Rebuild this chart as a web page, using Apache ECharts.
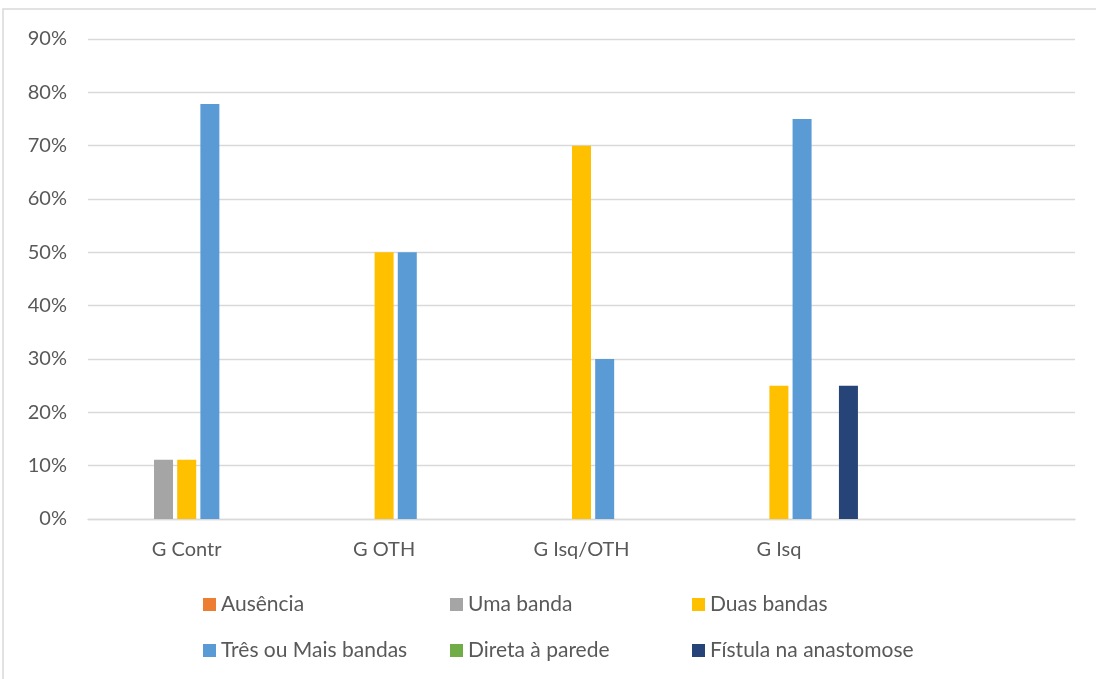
<!DOCTYPE html>
<html>
<head>
<meta charset="utf-8">
<script src="https://cdn.jsdelivr.net/npm/echarts@6/dist/echarts.min.js"></script>
<style>
html,body{margin:0;padding:0;background:#fff;}
#chart{width:1096px;height:679px;}
</style>
</head>
<body>
<div id="chart"></div>
<script>
var categories = ['G Contr', 'G OTH', 'G Isq/OTH', 'G Isq', ''];
var ausencia = [0, 0, 0, 0, null];
var umaBanda = [11.1, 0, 0, 0, null];
var duasBandas = [11.1, 50, 70, 25, null];
var tresOuMais = [77.8, 50, 30, 75, null];
var diretaParede = [0, 0, 0, 0, null];
var fistula = [0, 0, 0, 25, null];
var placeholder = [null, null, null, null, null];
var yTicks = [0, 10, 20, 30, 40, 50, 60, 70, 80, 90];

var FONT = 'Lato';
var TXT = '#595959';

var chart = echarts.init(document.getElementById('chart'));

function bar(name, data, color) {
  return {
    name: name, type: 'bar', data: data,
    barWidth: 19, barGap: '22%',
    itemStyle: { color: color },
    emphasis: { disabled: true }
  };
}

var legendCommon = {
  orient: 'vertical',
  top: 589,
  itemWidth: 13,
  itemHeight: 13,
  itemGap: 25,
  icon: 'rect',
  textStyle: { fontFamily: FONT, fontSize: 21, color: TXT, lineHeight: 21 },
  selectedMode: false
};

chart.setOption({
  animation: false,
  backgroundColor: '#fff',
  graphic: [{
    type: 'rect',
    shape: { x: 3, y: 9, width: 1200, height: 1000 },
    style: { fill: 'none', stroke: '#D9D9D9', lineWidth: 1.5 },
    silent: true
  }],
  grid: { left: 88, right: 21, top: 39, bottom: 160, containLabel: false },
  legend: [
    Object.assign({}, legendCommon, { left: 198, data: ['Ausência', 'Três ou Mais bandas'] }),
    Object.assign({}, legendCommon, { left: 445, data: ['Uma banda', 'Direta à parede'] }),
    Object.assign({}, legendCommon, { left: 687, data: ['Duas bandas', 'Fístula na anastomose'] })
  ],
  xAxis: {
    type: 'category',
    data: categories,
    axisLine: { lineStyle: { color: '#D9D9D9', width: 1.3 } },
    axisTick: { show: false },
    axisLabel: { fontFamily: FONT, fontSize: 20, color: TXT, margin: 21 }
  },
  yAxis: {
    type: 'value',
    min: yTicks[0],
    max: yTicks[yTicks.length - 1],
    interval: 10,
    axisLine: { show: false },
    axisTick: { show: false },
    axisLabel: { fontFamily: FONT, fontSize: 20, color: TXT, margin: 21, formatter: '{value}%' },
    splitLine: { lineStyle: { color: '#D9D9D9', width: 1.3 } }
  },
  series: [
    bar('', placeholder, 'transparent'),
    bar('Ausência', ausencia, '#ED7D31'),
    bar('Uma banda', umaBanda, '#A5A5A5'),
    bar('Duas bandas', duasBandas, '#FFC000'),
    bar('Três ou Mais bandas', tresOuMais, '#5B9BD5'),
    bar('Direta à parede', diretaParede, '#70AD47'),
    bar('Fístula na anastomose', fistula, '#264478')
  ]
});
</script>
</body>
</html>
